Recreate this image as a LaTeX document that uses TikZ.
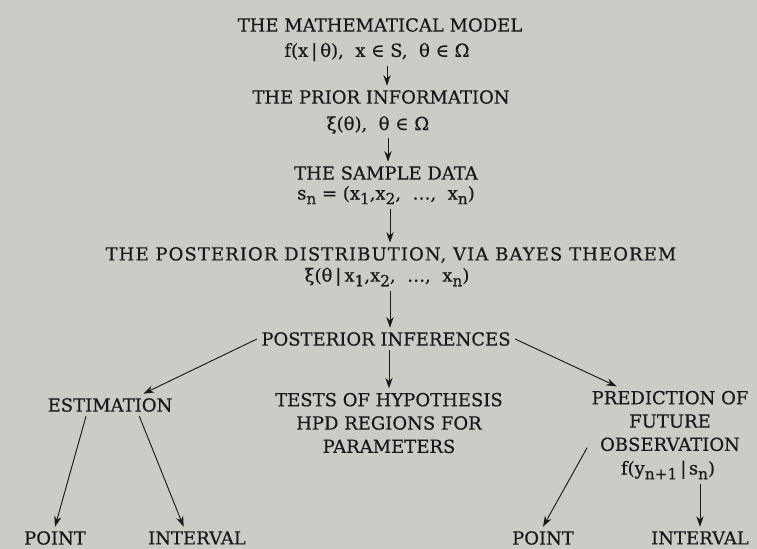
\documentclass[tikz,border=0pt]{standalone}
\usepackage{amsmath}
\usepackage{fontspec}
\setmainfont{DejaVu Serif}[FakeBold=0.5]
\usetikzlibrary{arrows.meta}

\definecolor{paper}{RGB}{204,204,198}
\definecolor{ink}{RGB}{25,25,25}

% lowered index, as set on the page
\newcommand{\lo}[1]{\raisebox{-0.5ex}{\fontsize{11.5}{12}\selectfont #1}}

\begin{document}
\begin{tikzpicture}[>={Stealth[length=8pt,width=5.5pt]}, x=0.75pt, y=-0.75pt,
		every node/.style={text=ink, inner sep=3pt, font=\fontsize{13.5}{17.5}\selectfont},
		every path/.style={draw=ink, line width=0.7pt},
		stack/.style={align=center}]
			% Page background
			\fill[paper, draw=none] (0,0) rectangle (757,549);

			% Main chain: model -> prior -> data -> posterior
			\node (model) at (380,25) {THE MATHEMATICAL MODEL};
			\node (modelf) at (377,52) {f(x\,|\,θ), \ x ∈ S, \ θ ∈ Ω};
			\node (prior) at (381,97) {THE PRIOR INFORMATION};
			\node (priorf) at (378,125) {ξ(θ), \ θ ∈ Ω};
			\node (sample) at (386,173) {THE SAMPLE DATA};
			\node (samplef) at (386,195) {s\lo{n} = (x\lo{1},x\lo{2}, \ …, \ x\lo{n})};
			\node[font=\fontsize{13.5}{17.5}\selectfont\addfontfeature{LetterSpace=6}] (post) at (391,255)
				{THE POSTERIOR DISTRIBUTION, VIA BAYES THEOREM};
			\node (postf) at (387,277) {ξ(θ\,|\,x\lo{1},x\lo{2}, \ …, \ x\lo{n})};
			\node (infer) at (386,339) {POSTERIOR INFERENCES};

			% Three branches
			\node (estim) at (110,405) {ESTIMATION};
			\node[stack] (tests) at (389,423) {TESTS OF HYPOTHESIS\\HPD REGIONS FOR\\PARAMETERS};
			\node[stack] (pred) at (670,421) {PREDICTION OF\\FUTURE\\OBSERVATION};
			\node (predf) at (668,470) {f(y\lo{n+1}\,|\lo{\,}s\lo{n})};

			% End points
			\node (pointA) at (55,538) {POINT};
			\node (intervalA) at (197,538) {INTERVAL};
			\node (pointB) at (543,538) {POINT};
			\node (intervalB) at (700,538) {INTERVAL};

			% Arrows down the chain
			\draw[->] (modelf.south -| 387,0) -- (prior.north -| 387,0);
			\draw[->] (priorf.south -| 388,0) -- (sample.north -| 388,0);
			\draw[->] (samplef.south -| 390,0) -- (post.north -| 390,0);
			\draw[->] (postf.south -| 390,0) -- (infer.north -| 390,0);

			% Arrows out of the inferences
			\draw[->] (infer.west) -- ([xshift=25pt]estim.north);
			\draw[->] (infer.south -| tests) -- (tests.north);
			\draw[->] (infer.east) -- ([xshift=-40pt]pred.north);
			\draw[->] ([xshift=-18pt]estim.south) -- (pointA.north);
			\draw[->] ([xshift=22pt]estim.south) -- ([xshift=-10pt]intervalA.north);
			\draw[->] ([yshift=6pt]pred.south west) -- (pointB.north);
			\draw[->] (predf.south -| intervalB) -- (intervalB.north);
		\end{tikzpicture}
\end{document}
